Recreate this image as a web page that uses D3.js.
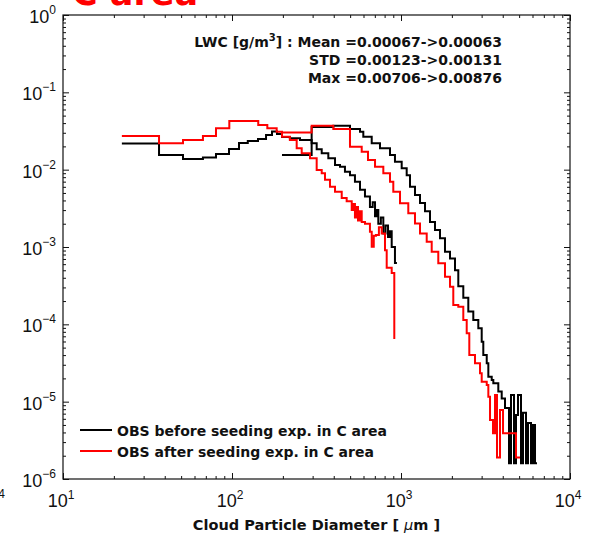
<!DOCTYPE html>
<html>
<head>
<meta charset="utf-8">
<script src="https://cdn.jsdelivr.net/npm/d3@7"></script>
<style>
  body { margin: 0; background: #fff; }
  svg { display: block; }
</style>
</head>
<body>
<script>
const width = 596;
const height = 534;

// bin left edge [um], LWC fraction ; last pair closes the final bin
const beforeSmall = [
  [22.3, 0.0218], [37.0, 0.0155], [51.3, 0.0137], [67.3, 0.0144], [80.4, 0.0159],
  [96.0, 0.0185], [110, 0.0221], [124, 0.0235], [142.5, 0.0249], [159, 0.0281],
  [172.5, 0.0311], [184.6, 0.0289], [197.6, 0.0264], [220, 0.0254], [252.6, 0.0242],
  [296, 0.0219], [317, 0.0183], [339.5, 0.0163], [371.5, 0.0140], [407, 0.0115],
  [435.5, 0.0109], [466, 0.0094], [499, 0.0085], [534, 0.0070], [572, 0.0055],
  [612, 0.0045], [655, 0.0033], [680, 0.0038], [702, 0.0025], [718, 0.0030],
  [734, 0.0020], [760, 0.0024], [786, 0.0015], [810, 0.0019], [838, 0.00135],
  [860, 0.0016], [881, 0.0010], [921, 0.00062], [946, 0.00062]
];

const beforeLarge = [
  [197.6, 0.0155], [296, 0.0356], [397.7, 0.0370], [499, 0.0336], [572, 0.0310],
  [598.4, 0.0267], [671, 0.0219], [751, 0.0189], [860.7, 0.0155], [921, 0.0127],
  [1009.5, 0.0104], [1080.6, 0.0085], [1130.5, 0.0060], [1210, 0.0047], [1295.5, 0.0037],
  [1387, 0.0029], [1484.5, 0.0021], [1589, 0.00166], [1701, 0.00130], [1821, 0.00087],
  [1949.5, 0.00071], [2087, 0.00050], [2183, 0.00031], [2337, 0.00022], [2502, 0.000146],
  [2678, 0.000114], [2867, 0.0000888], [3003, 0.0000596], [3069, 0.0000401], [3216, 0.0000313],
  [3287, 0.0000210], [3442, 0.0000191], [3518, 0.0000173], [3765, 0.0000135], [3944, 0.0000110],
  [4125, 0.0000083], [4356, 0.0000016], [4476, 0.0000122], [4663, 0.0000016], [4792, 0.0000067],
  [4924, 0.0000122], [5129, 0.0000016], [5272, 0.0000072], [5490, 0.0000016], [5642, 0.0000053],
  [5877, 0.0000016], [6040, 0.0000050], [6208, 0.0000016], [6379, 0.0000016]
];

const afterSmall = [
  [22.3, 0.0272], [37.0, 0.0219], [51.3, 0.0242], [67.3, 0.0272], [80.4, 0.0343],
  [96.4, 0.0426], [143, 0.0378], [161.8, 0.0343], [183.8, 0.0310], [197.6, 0.0267],
  [220, 0.0242], [241.4, 0.0189], [258.5, 0.0163], [289.4, 0.0140], [317, 0.0099],
  [339.5, 0.0090], [355, 0.0074], [380, 0.0060], [407, 0.0052], [445.9, 0.0043],
  [477, 0.0039], [511, 0.0030], [522, 0.0036], [534, 0.0024], [545, 0.0033],
  [556.6, 0.0022], [570, 0.0029], [585.5, 0.0021], [612, 0.0020], [655, 0.00158],
  [671, 0.00101], [690, 0.0014], [711, 0.00143], [740, 0.0018], [769, 0.0015],
  [804, 0.00091], [823, 0.00054], [881, 0.00046], [912.7, 0.0000665], [925, 0.0000665]
];

const afterLarge = [
  [197.6, 0.0302], [296, 0.0370], [397.7, 0.0336], [499, 0.0198], [585.5, 0.0171],
  [637.8, 0.0133], [702, 0.0109], [786, 0.0090], [860.7, 0.0070], [900.4, 0.0052],
  [986.6, 0.00367], [1104.5, 0.00273], [1210, 0.00202], [1295.5, 0.0015], [1419.5, 0.00117],
  [1519.5, 0.00087], [1662, 0.000615], [1821, 0.000413], [1949.5, 0.000307], [2039, 0.000178],
  [2183, 0.000169], [2337, 0.000114], [2448, 0.0000765], [2536, 0.0000401], [2741, 0.0000313],
  [2935, 0.0000233], [3003, 0.0000181], [3216, 0.0000164], [3287, 0.0000116], [3363, 0.0000058],
  [3504, 0.0000039], [3600, 0.0000122], [3699, 0.0000019], [3853, 0.0000078], [4015, 0.0000039],
  [4297, 0.0000039], [4792, 0.0000019], [5060, 0.0000019]
];

const xDecades = [1, 2, 3, 4];
const yDecades = [0, -1, -2, -3, -4, -5, -6];
const statLines = [
  ["LWC [g/m", "3", "] : Mean =0.00067->0.00063"],
  ["STD =0.00123->0.00131"],
  ["Max =0.00706->0.00876"]
];
const legendItems = [
  { label: "OBS before seeding exp. in C area", color: "#000" },
  { label: "OBS after seeding exp. in C area", color: "#ff0000" }
];
const titleText = "C area";
const xLabel = ["Cloud Particle Diameter [ ", "\u03bc", "m ]"];

const plot = { left: 63, right: 570, top: 15, bottom: 479 };
const textColor = "#111";
const font = "'DejaVu Sans', sans-serif";
const tickFont = "'Liberation Sans', Arial, sans-serif";

const x = d3.scaleLog().domain([10, 1e4]).range([plot.left, plot.right]);
const y = d3.scaleLog().domain([1e-6, 1]).range([plot.bottom, plot.top]);

const svg = d3.select("body").append("svg")
  .attr("width", width)
  .attr("height", height)
  .attr("xmlns", "http://www.w3.org/2000/svg")
  .style("font-family", font);

svg.append("rect")
  .attr("width", width)
  .attr("height", height)
  .attr("fill", "#fff");

// cut-off title of the panel above
svg.append("text")
  .attr("x", 72)
  .attr("y", 5)
  .attr("fill", "#ff0000")
  .attr("font-size", 35)
  .attr("font-weight", 700)
  .text(titleText);

// leftover superscript from the neighbouring panel
svg.append("text")
  .attr("x", 5)
  .attr("y", 498)
  .attr("text-anchor", "end")
  .attr("font-size", 12)
  .attr("font-family", tickFont)
  .attr("fill", textColor)
  .text("4");

// curves
const line = d3.line()
  .x(d => x(d[0]))
  .y(d => y(d[1]))
  .curve(d3.curveStepAfter);

const series = [
  { data: beforeSmall, color: "#000" },
  { data: beforeLarge, color: "#000" },
  { data: afterSmall, color: "#ff0000" },
  { data: afterLarge, color: "#ff0000" }
];

svg.append("g")
  .selectAll("path")
  .data(series)
  .join("path")
  .attr("d", d => line(d.data))
  .attr("fill", "none")
  .attr("stroke", d => d.color)
  .attr("stroke-width", 2)
  .attr("stroke-linejoin", "miter");

// ticks on all four sides, pointing in
const allX = x.ticks();
const allY = y.ticks();
const isMajor = v => Math.abs(Math.log10(v) - Math.round(Math.log10(v))) < 1e-9;

const tickGroup = (axis, transform) => {
  const g = svg.append("g").attr("transform", transform).call(axis);
  g.select(".domain").remove();
  g.selectAll("text").remove();
  g.selectAll("line").attr("stroke", textColor).attr("stroke-width", 1);
};

const axisSides = [
  [d3.axisBottom, `translate(0,${plot.bottom})`, x, allX],
  [d3.axisTop, `translate(0,${plot.top})`, x, allX],
  [d3.axisLeft, `translate(${plot.left},0)`, y, allY],
  [d3.axisRight, `translate(${plot.right},0)`, y, allY]
];
axisSides.forEach(([make, tr, scale, vals]) => {
  tickGroup(make(scale).tickValues(vals.filter(v => !isMajor(v))).tickSize(-3).tickFormat(""), tr);
  tickGroup(make(scale).tickValues(vals.filter(isMajor)).tickSize(-6).tickFormat(""), tr);
});

svg.append("rect")
  .attr("x", plot.left)
  .attr("y", plot.top)
  .attr("width", plot.right - plot.left)
  .attr("height", plot.bottom - plot.top)
  .attr("fill", "none")
  .attr("stroke", textColor)
  .attr("stroke-width", 1.2);

// tick labels
const xl = svg.append("g").attr("fill", textColor).attr("font-size", 18).attr("font-family", tickFont)
  .selectAll("text")
  .data(xDecades)
  .join("text")
  .attr("x", d => x(Math.pow(10, d)) - 2)
  .attr("y", plot.bottom + 28)
  .attr("text-anchor", "middle");
xl.append("tspan").text("10");
xl.append("tspan").attr("dy", -8).attr("font-size", 12).text(d => d);

const yl = svg.append("g").attr("fill", textColor).attr("font-size", 18).attr("font-family", tickFont)
  .selectAll("text")
  .data(yDecades)
  .join("text")
  .attr("x", 56)
  .attr("y", d => y(Math.pow(10, d)) + 8)
  .attr("text-anchor", "end");
yl.append("tspan").text("10");
yl.append("tspan").attr("dy", -9).attr("font-size", 12).text(d => d === 0 ? "0" : "\u2212" + Math.abs(d));

// x label
const xt = svg.append("text")
  .attr("x", (plot.left + plot.right) / 2)
  .attr("y", 530)
  .attr("text-anchor", "middle")
  .attr("font-size", 14.5)
  .attr("font-weight", 700)
  .attr("fill", textColor);
xt.append("tspan").text(xLabel[0]);
xt.append("tspan").attr("font-style", "italic").attr("font-weight", 400).text(xLabel[1]);
xt.append("tspan").text(xLabel[2]);

// stats text, right aligned
const st = svg.append("g")
  .attr("font-size", 14)
  .attr("font-weight", 700)
  .attr("fill", textColor)
  .selectAll("text")
  .data(statLines)
  .join("text")
  .attr("x", 502)
  .attr("y", (d, i) => 47 + i * 18)
  .attr("text-anchor", "end");
st.each(function(parts) {
  const t = d3.select(this);
  if (parts.length === 1) {
    t.text(parts[0]);
  } else {
    t.append("tspan").text(parts[0]);
    t.append("tspan").attr("dy", -6).attr("font-size", 10).text(parts[1]);
    t.append("tspan").attr("dy", 6).text(parts[2]);
  }
});

// legend
const lg = svg.append("g")
  .selectAll("g")
  .data(legendItems)
  .join("g")
  .attr("transform", (d, i) => `translate(80,${430 + i * 21})`);
lg.append("line")
  .attr("x1", 0).attr("x2", 32)
  .attr("stroke", d => d.color)
  .attr("stroke-width", 2);
lg.append("text")
  .attr("x", 37)
  .attr("y", 6)
  .attr("font-size", 14)
  .attr("font-weight", 700)
  .attr("fill", textColor)
  .text(d => d.label);
</script>
</body>
</html>
